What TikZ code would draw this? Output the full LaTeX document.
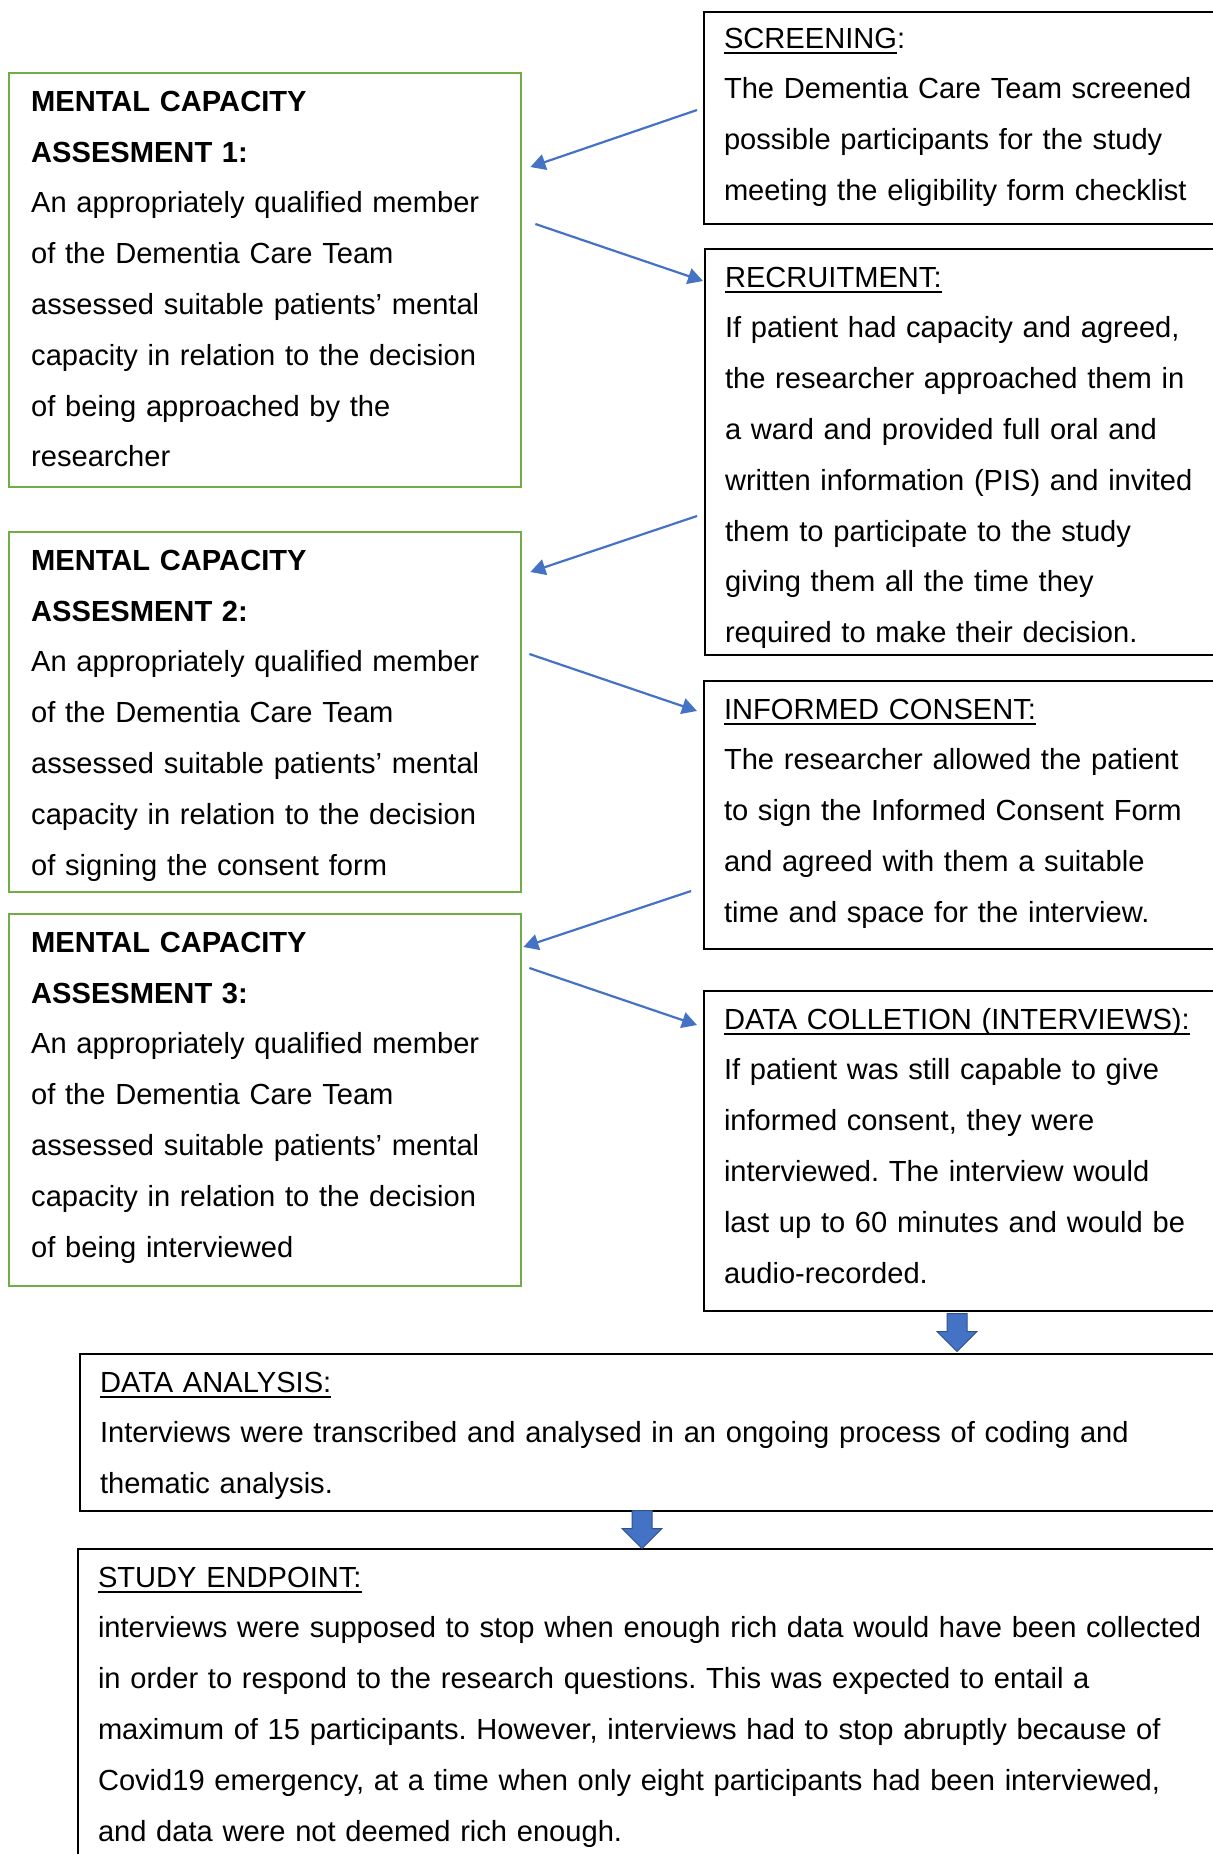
\documentclass[tikz,border=0pt]{standalone}
\usepackage{fontspec}
\setmainfont{Liberation Sans}
\usepackage{tikz}
\usetikzlibrary{shapes.arrows,arrows.meta}
\definecolor{mcgreen}{RGB}{112,173,71}
\definecolor{linkblue}{RGB}{68,114,196}
\definecolor{linkedge}{RGB}{47,82,143}
\newcommand{\ulhead}[1]{\setbox0\hbox{#1}\rlap{\rule[-3pt]{\wd0}{0.9pt}}\box0}
\frenchspacing

\begin{document}
\begin{tikzpicture}[
    x=0.5pt, y=-0.5pt,
    box/.style={rectangle, draw=black, line width=1pt, anchor=north west, align=left, inner xsep=10pt, inner ysep=0pt, minimum width=270pt, text width=250pt, text height=19pt, font=\fontsize{14.55pt}{25.4pt}\selectfont},
    mcbox/.style={box, draw=mcgreen, line width=1.2pt, inner xsep=11pt, minimum width=256pt, text width=234pt},
    widebox/.style={box, minimum width=580pt, text width=560pt},
    arrow/.style={-{Triangle[length=7.5pt,width=8pt]}, line width=1.1pt, draw=linkblue},
    bigarrow/.style={single arrow, draw=linkedge, fill=linkblue, line width=0.5pt, minimum height=19pt, minimum width=19.5pt, single arrow head extend=5pt, inner xsep=0pt, inner ysep=4.75pt, rotate=-90, anchor=tail}
]
\useasboundingbox (0,0) rectangle (1213,1854);

\node[box, text height=18pt, text depth=88pt] (scr) at (703,11) {\ulhead{SCREENING}:\\The Dementia Care Team screened\\possible participants for the study\\meeting the eligibility form checklist};

\node[mcbox, text depth=188pt] (mc1) at (8,72) {\textbf{MENTAL CAPACITY}\\\textbf{ASSESMENT 1:}\\An appropriately qualified member\\of the Dementia Care Team\\assessed suitable patients’ mental\\capacity in relation to the decision\\of being approached by the\\researcher};

\node[box, text depth=184pt] (rec) at (704,248) {\ulhead{RECRUITMENT:}\\If patient had capacity and agreed,\\the researcher approached them in\\a ward and provided full oral and\\written information (PIS) and invited\\them to participate to the study\\giving them all the time they\\required to make their decision.};

\node[mcbox, text depth=161pt] (mc2) at (8,531) {\textbf{MENTAL CAPACITY}\\\textbf{ASSESMENT 2:}\\An appropriately qualified member\\of the Dementia Care Team\\assessed suitable patients’ mental\\capacity in relation to the decision\\of signing the consent form};

\node[box, text depth=115pt] (ic) at (703,680) {\ulhead{INFORMED CONSENT:}\\The researcher allowed the patient\\to sign the Informed Consent Form\\and agreed with them a suitable\\time and space for the interview.};

\node[mcbox, text depth=167pt] (mc3) at (8,913) {\textbf{MENTAL CAPACITY}\\\textbf{ASSESMENT 3:}\\An appropriately qualified member\\of the Dementia Care Team\\assessed suitable patients’ mental\\capacity in relation to the decision\\of being interviewed};

\node[box, text depth=141pt] (dc) at (703,990) {\ulhead{DATA COLLETION (INTERVIEWS):}\\If patient was still capable to give\\informed consent, they were\\interviewed. The interview would\\last up to 60 minutes and would be\\audio-recorded.};

\node[widebox, text depth=59.5pt] (da) at (79,1353) {\ulhead{DATA ANALYSIS:}\\Interviews were transcribed and analysed in an ongoing process of coding and\\thematic analysis.};

\node[widebox, text depth=151pt] (se) at (77,1548) {\ulhead{STUDY ENDPOINT:}\\interviews were supposed to stop when enough rich data would have been collected\\in order to respond to the research questions. This was expected to entail a\\maximum of 15 participants. However, interviews had to stop abruptly because of\\Covid19 emergency, at a time when only eight participants had been interviewed,\\and data were not deemed rich enough.};

\node[bigarrow] (down1) at ([shift={(254,1)}]dc.south west) {};
\node[bigarrow] (down2) at ([shift={(563,-2)}]da.south west) {};

\draw[arrow] ([shift={(-6,99)}]scr.north west) -- ([shift={(8,95)}]mc1.north east);
\draw[arrow] ([shift={(13,152)}]mc1.north east) -- ([shift={(-1,33)}]rec.north west);
\draw[arrow] ([shift={(-7,268)}]rec.north west) -- ([shift={(8,41)}]mc2.north east);
\draw[arrow] ([shift={(7,123)}]mc2.north east) -- ([shift={(-6,31)}]ic.north west);
\draw[arrow] ([shift={(-12,211)}]ic.north west) -- ([shift={(1,34)}]mc3.north east);
\draw[arrow] ([shift={(7,55)}]mc3.north east) -- ([shift={(-6,35)}]dc.north west);

\end{tikzpicture}
\end{document}
